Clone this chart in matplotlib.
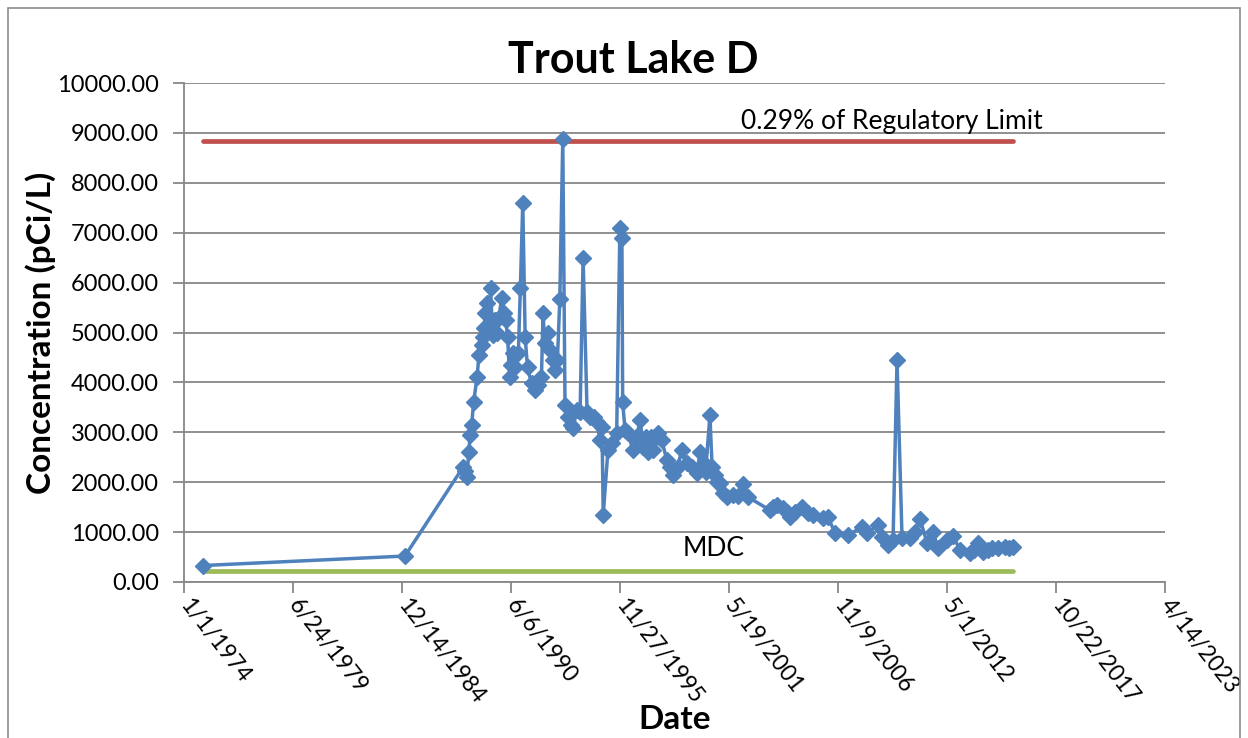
import pandas as pd
import matplotlib
matplotlib.use('Agg')
import matplotlib.pyplot as plt
from matplotlib.patches import Rectangle

plt.rcParams['font.family'] = ['Lato', 'DejaVu Sans']

# 시료 채취일 / 농도 (pCi/L)
sample_dates = [
    '1974-12-13', '1985-02-06',
    '1988-01-08', '1988-02-14', '1988-03-22', '1988-04-20', '1988-05-19', '1988-06-14',
    '1988-07-20', '1988-09-20', '1988-10-27', '1988-12-14', '1989-01-08', '1989-01-30',
    '1989-02-21', '1989-03-22', '1989-04-20', '1989-05-27', '1989-07-02', '1989-08-08',
    '1989-09-20', '1989-10-27', '1989-12-17', '1990-01-30', '1990-02-28', '1990-04-05',
    '1990-05-12', '1990-06-10', '1990-07-09', '1990-08-25', '1990-10-19', '1990-11-25',
    '1991-01-08', '1991-02-21', '1991-04-05', '1991-06-18', '1991-08-15', '1991-10-12',
    '1991-12-17', '1992-01-15', '1992-02-14', '1992-04-13', '1992-05-19', '1992-07-09',
    '1992-08-22', '1992-10-05', '1992-11-18', '1993-01-11', '1993-02-21', '1993-04-13',
    '1993-06-03', '1993-07-16', '1993-09-27', '1993-11-25', '1994-01-19', '1994-04-02',
    '1994-05-27', '1994-07-31', '1994-10-01', '1994-11-25', '1995-01-01', '1995-01-23',
    '1995-04-20', '1995-07-02', '1995-09-27', '1995-11-25', '1996-01-01', '1996-01-15',
    '1996-02-28', '1996-04-20', '1996-07-24', '1996-09-20', '1996-12-03', '1997-01-23',
    '1997-03-22', '1997-04-28', '1997-06-14', '1997-07-24', '1997-09-13', '1997-10-27',
    '1998-01-01', '1998-04-05', '1998-05-27', '1998-07-31', '1998-10-19', '1999-01-01',
    '1999-04-13', '1999-07-09', '1999-10-12', '1999-12-03', '2000-02-07', '2000-03-14',
    '2000-06-03', '2000-07-13', '2000-08-30', '2000-10-19', '2000-12-06', '2001-01-30',
    '2001-04-13', '2001-08-08', '2001-11-07', '2002-01-30', '2002-05-05', '2003-06-10',
    '2003-08-08', '2003-10-16', '2004-02-03', '2004-04-20', '2004-06-14', '2004-09-13',
    '2005-01-19', '2005-05-08', '2005-08-08', '2006-02-07', '2006-05-08', '2006-09-17',
    '2007-05-12', '2008-01-23', '2008-04-23', '2008-11-14', '2009-01-27', '2009-05-16',
    '2009-08-15', '2009-10-27', '2010-01-27', '2010-06-21', '2010-09-24', '2010-12-24',
    '2011-05-01', '2011-08-19', '2011-11-18', '2012-05-01', '2012-08-19', '2012-12-28',
    '2013-06-28', '2013-09-13', '2013-11-22', '2014-02-21', '2014-05-27', '2014-08-03',
    '2014-11-25', '2015-04-02', '2015-06-14', '2015-08-26',
]
concentration = [
    330, 520,
    2300, 2220, 2100, 2600, 2950, 3150,
    3600, 4100, 4550, 4750, 4900, 5100,
    5400, 5600, 5100, 5900, 4950, 5250,
    5000, 5300, 5700, 5400, 5250, 4900,
    4100, 4350, 4580, 4300, 4580, 5900,
    7600, 4900, 4300, 3980, 3840, 3950,
    4100, 5400, 4780, 4980, 4640, 4440,
    4240, 4450, 5680, 8870, 3540, 3300,
    3150, 3080, 3440, 3400, 6500, 3400,
    3300, 3300, 3200, 2840, 3100, 1340,
    2640, 2780, 2980, 7100, 6900, 3600,
    3040, 2980, 2640, 2900, 3240, 2700,
    2900, 2600, 2900, 2640, 2900, 2980,
    2840, 2440, 2300, 2140, 2300, 2640,
    2380, 2300, 2180, 2600, 2380, 2200,
    3340, 2300, 2150, 2000, 1980, 1780,
    1700, 1740, 1720, 1960, 1700, 1440,
    1500, 1540, 1480, 1400, 1300, 1400,
    1500, 1380, 1340, 1280, 1300, 980,
    940, 1100, 980, 1140, 900, 740,
    840, 4440, 880, 880, 1000, 1260,
    780, 1000, 680, 840, 920, 640,
    580, 640, 780, 600, 640, 680,
    680, 700, 680, 700,
]
limit_value = 8840   # 0.29% of Regulatory Limit
mdc_value = 220

dates = pd.to_datetime(sample_dates)

axis_start = pd.Timestamp('1974-01-01')
tick_dates = [axis_start + pd.Timedelta(days=2000 * k) for k in range(10)]
tick_labels = [f'{d.month}/{d.day}/{d.year}' for d in tick_dates]

fig = plt.figure(figsize=(12.48, 7.38), dpi=100)
ax = fig.add_axes([184 / 1248, 1 - 582 / 738, (1165 - 184) / 1248, (582 - 83) / 738])

# 바깥 차트 테두리 (엑셀 스타일)
fig.patches.append(Rectangle((8 / 1248, -0.02), (1240 - 8) / 1248, 1.02 - 8 / 738,
                             transform=fig.transFigure, fill=False,
                             edgecolor='#8c8c8c', linewidth=1.2))

ax.plot([dates[0], dates[-1]], [limit_value, limit_value], color='#C0504D',
        linewidth=3.4, solid_capstyle='round', zorder=3)
ax.plot([dates[0], dates[-1]], [mdc_value, mdc_value], color='#9BBB59',
        linewidth=3.4, solid_capstyle='round', zorder=3)
ax.plot(dates, concentration, color='#4F81BD', linewidth=2.5, marker='D',
        markersize=8, markeredgecolor='#4F81BD', zorder=4)

ax.text(pd.Timestamp('2002-01-01'), limit_value + 130, '0.29% of Regulatory Limit',
        fontsize=19, ha='left', va='bottom')
ax.text(pd.Timestamp('1999-01-20'), mdc_value + 200, 'MDC',
        fontsize=19, ha='left', va='bottom')

ax.set_xlim(tick_dates[0], tick_dates[-1])
ax.set_ylim(0, 10000)
ax.set_yticks(range(0, 10001, 1000))
ax.set_yticklabels([f'{v:.2f}' for v in range(0, 10001, 1000)], fontsize=17)
ax.set_xticks(tick_dates)
ax.set_xticklabels(tick_labels, fontsize=16.5, rotation=-52, ha='left', va='center',
                   rotation_mode='anchor')

ax.grid(True, axis='y', color='#878787', linewidth=1.3)
ax.set_axisbelow(True)
for side in ['top', 'right']:
    ax.spines[side].set_visible(False)
for side in ['left', 'bottom']:
    ax.spines[side].set_color('#878787')
    ax.spines[side].set_linewidth(1.3)
ax.tick_params(axis='both', direction='out', length=8, width=1.3, color='#878787')
ax.tick_params(axis='x', pad=6)
ax.tick_params(axis='y', pad=10)

fig.text(633 / 1248, 1 - 60 / 738, 'Trout Lake D', fontsize=31, fontweight='bold',
         ha='center', va='center')
ax.set_ylabel('Concentration (pCi/L)', fontsize=24, fontweight='bold', labelpad=1)
ax.set_xlabel('Date', fontsize=24, fontweight='bold', labelpad=-2)

plt.savefig('out.png', dpi=100)
